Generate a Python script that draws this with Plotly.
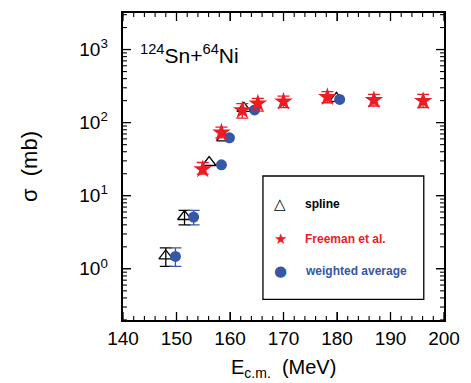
import plotly.graph_objects as go

# ---- data ----
spline_x = [148.0, 151.5, 156.1, 158.8, 162.6, 179.9]
spline_y = [1.5, 5.2, 28.5, 62, 157, 215]
spline_err_plus = [0.43, 1.1]    # only the first two points carry error bars
spline_err_minus = [0.42, 1.2]

wavg_x = [149.8, 153.2, 158.4, 159.9, 164.6, 180.5]
wavg_y = [1.48, 5.1, 26.5, 62, 149, 208]
wavg_err_plus = [0.45, 1.2]
wavg_err_minus = [0.40, 1.1]

freeman_x = [154.9, 158.4, 162.3, 165.2, 170.0, 178.2, 186.9, 196.1]
freeman_y = [23, 73, 148, 182, 194, 224, 204, 198]
freeman_err_plus = [5.5, 14, 34, 33, 37, 41, 40, 46]
freeman_err_minus = [3.2, 11, 33, 38, 34, 37, 35, 37]

x_ticks = [140, 150, 160, 170, 180, 190, 200]
x_minor = [v for v in range(142, 200, 2) if v % 10 != 0]
y_ticks = [1, 10, 100, 1000]
y_ticktext = ["10<sup>0</sup>\u2002", "10<sup>1</sup>\u2002", "10<sup>2</sup>\u2002", "10<sup>3</sup>\u2002"]
y_minor = [m * 10 ** e for e in (-1, 0, 1, 2) for m in range(2, 10) if m * 10 ** e >= 0.2] + [2000, 3000]

RED = "#ec1c24"
BLUE = "#3656a6"
FONT = "Liberation Sans, Arial, sans-serif"

W, H = 471, 383
ML, MR, MT, MB = 123, 24, 11, 63
PW, PH = W - ML - MR, H - MT - MB

fig = go.Figure()

tri = dict(symbol="triangle-up-open", size=12, color="black", line=dict(width=1.3, color="black"))
dot = dict(symbol="circle", size=11, color=BLUE)
n_s = len(spline_err_plus)
n_w = len(wavg_err_plus)

fig.add_trace(go.Scatter(
    x=spline_x[:n_s], y=spline_y[:n_s], mode="markers", marker=tri,
    error_y=dict(type="data", array=spline_err_plus, arrayminus=spline_err_minus,
                 color="black", thickness=1.3, width=6),
))
fig.add_trace(go.Scatter(x=spline_x[n_s:], y=spline_y[n_s:], mode="markers", marker=tri))
fig.add_trace(go.Scatter(
    x=wavg_x[:n_w], y=wavg_y[:n_w], mode="markers", marker=dot,
    error_y=dict(type="data", array=wavg_err_plus, arrayminus=wavg_err_minus,
                 color=BLUE, thickness=1.3, width=6),
))
fig.add_trace(go.Scatter(x=wavg_x[n_w:], y=wavg_y[n_w:], mode="markers", marker=dot))
fig.add_trace(go.Scatter(
    x=freeman_x, y=freeman_y, mode="markers",
    marker=dict(symbol="star", size=14, color=RED),
    error_y=dict(type="data", array=freeman_err_plus, arrayminus=freeman_err_minus,
                 color=RED, thickness=1.3, width=6),
))

fig.update_xaxes(
    showline=True, linecolor="black", linewidth=1.8, mirror="allticks",
    ticks="inside", ticklen=8, tickwidth=1.3, tickcolor="black",
    showgrid=False, zeroline=False,
    range=[140, 200], tickmode="array", tickvals=x_ticks,
)
fig.update_yaxes(
    showline=True, linecolor="black", linewidth=1.8, mirror="allticks",
    ticks="inside", ticklen=8, tickwidth=1.3, tickcolor="black",
    showgrid=False, zeroline=False,
    type="log", range=[-0.7, 3.5], tickmode="array",
    tickvals=y_ticks, ticktext=y_ticktext,
    title=dict(text="σ  (mb)", font=dict(family=FONT, size=22, color="black"), standoff=36),
)

# tick marks on all four sides, placed through the axes' own scales
def x_tick_marks(vals, length, width):
    for v in vals:
        for y0, y1 in ((0, length / PH), (1, 1 - length / PH)):
            fig.add_shape(type="line", xref="x", yref="paper", x0=v, x1=v, y0=y0, y1=y1,
                          line=dict(color="black", width=width))

def y_tick_marks(vals, length, width):
    for v in vals:
        for x0, x1 in ((0, length / PW), (1, 1 - length / PW)):
            fig.add_shape(type="line", xref="paper", yref="y", x0=x0, x1=x1, y0=v, y1=v,
                          line=dict(color="black", width=width))

x_tick_marks(x_ticks, 8, 1.3)
x_tick_marks(x_minor, 4, 1.1)
y_tick_marks(y_ticks, 8, 1.3)
y_tick_marks(y_minor, 4, 1.1)

# legend frame
fig.add_shape(type="rect", xref="paper", yref="paper",
              x0=0.436, x1=0.937, y0=0.067, y1=0.469,
              line=dict(color="black", width=1.3), fillcolor="rgba(0,0,0,0)")

# x-axis title
fig.add_annotation(
    x=0.5, y=0, xref="paper", yref="paper", xanchor="center", yanchor="top", yshift=-34,
    text="E<sub>c.m.</sub>  (MeV)", showarrow=False,
    font=dict(family=FONT, size=20, color="black"),
)

# reaction label
fig.add_annotation(
    x=0.046, y=0.867, xref="paper", yref="paper", xanchor="left", yanchor="middle",
    text="<sup>124</sup>Sn+<sup>64</sup>Ni", showarrow=False,
    font=dict(family=FONT, size=21, color="black"),
)

legend_entries = [
    ("△", "spline", "black", 0.378),
    ("★", "Freeman et al.", RED, 0.264),
    ("●", "weighted average", BLUE, 0.160),
]
for sym, label, col, yy in legend_entries:
    fig.add_annotation(x=0.49, y=yy, xref="paper", yref="paper", xanchor="center", yanchor="middle",
                       text=sym, showarrow=False, font=dict(family="DejaVu Sans", size=15, color=col))
    fig.add_annotation(x=0.562, y=yy, xref="paper", yref="paper", xanchor="left", yanchor="middle",
                       text="<b>" + label + "</b>", showarrow=False,
                       font=dict(family=FONT, size=12, color=col))

fig.update_layout(
    width=W, height=H,
    margin=dict(l=ML, r=MR, t=MT, b=MB),
    font=dict(family=FONT, size=19, color="black"),
    plot_bgcolor="white", paper_bgcolor="white",
    showlegend=False,
)

fig.write_html("out.html")
